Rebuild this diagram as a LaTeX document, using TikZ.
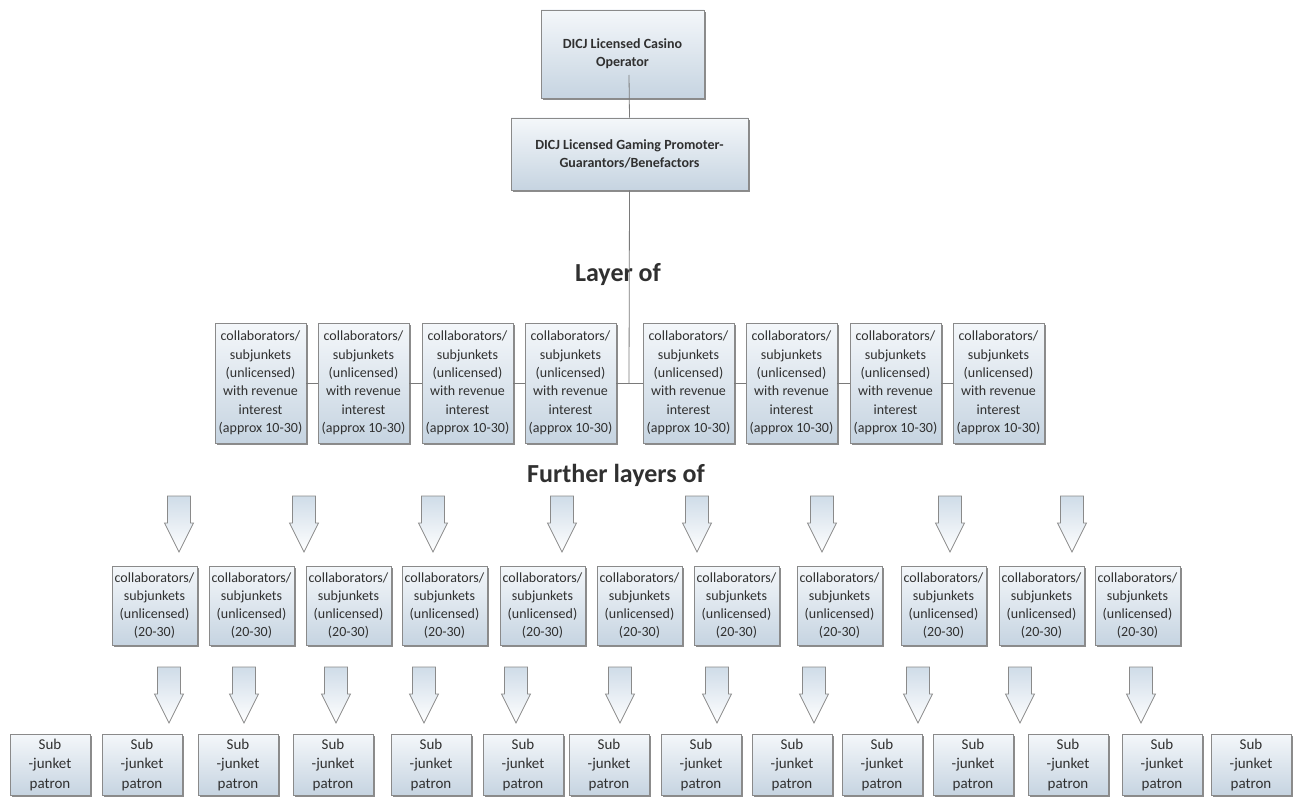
\documentclass[tikz,border=0pt]{standalone}
\usepackage{fontspec}
\setmainfont{Carlito}
\usepackage{xcolor}
\usetikzlibrary{shadows}

\definecolor{ink}{HTML}{303030}
\definecolor{edge}{HTML}{8A8A8A}
\definecolor{boxtop}{HTML}{F4F7FA}
\definecolor{boxbot}{HTML}{C6D4E1}
\definecolor{arrowtop}{HTML}{CFDCE8}
\definecolor{wire}{HTML}{7A7A7A}

\tikzset{
  smartbox/.style={draw=edge, line width=0.8pt, top color=boxtop, bottom color=boxbot,
    drop shadow={shadow xshift=1.5pt, shadow yshift=-2pt, fill=black, opacity=0.45},
    text=ink, align=center, inner sep=0pt},
  opbox/.style={smartbox, font=\bfseries\fontsize{14}{18}\selectfont},
  colbox/.style={smartbox, minimum width=91, minimum height=120, font=\fontsize{14}{18.4}\selectfont},
  subbox/.style={smartbox, minimum width=85, minimum height=79, font=\fontsize{14}{18}\selectfont},
  patronbox/.style={smartbox, minimum width=80, minimum height=61, font=\fontsize{15}{19.5}\selectfont},
  layertitle/.style={text=ink, anchor=base, inner sep=0pt, font=\bfseries\fontsize{26}{30}\selectfont},
  wireline/.style={draw=wire, line width=0.8pt},
  downarrow/.pic={
    \shade[draw=edge, line width=0.7pt, top color=arrowtop, bottom color=white]
      (-11.5,0) -- (11.5,0) -- (11.5,27) -- (14.5,27) -- (0,56)
      -- (-14.5,27) -- (-11.5,27) -- cycle;
  }
}

\begin{document}
\begin{tikzpicture}[x=1pt,y=-1pt]
\useasboundingbox (0,0) rectangle (1294,797);
% licensed top of the chain
\node[opbox, minimum width=163, minimum height=88] (casino) at (622.5,54) {DICJ Licensed Casino\\Operator};
\node[opbox, minimum width=237, minimum height=72] (promoter) at (629.5,154) {DICJ Licensed Gaming Promoter-\\Guarantors/Benefactors};
\node[layertitle] (layer) at (618,281) {Layer of};
% first layer, joined by one line
\node[colbox] (col1) at (260.5,383) {collaborators/\\subjunkets\\(unlicensed)\\with revenue\\interest\\(approx 10-30)};
\node[colbox] (col2) at (363.5,383) {collaborators/\\subjunkets\\(unlicensed)\\with revenue\\interest\\(approx 10-30)};
\node[colbox] (col3) at (467.5,383) {collaborators/\\subjunkets\\(unlicensed)\\with revenue\\interest\\(approx 10-30)};
\node[colbox] (col4) at (570.5,383) {collaborators/\\subjunkets\\(unlicensed)\\with revenue\\interest\\(approx 10-30)};
\node[colbox] (col5) at (688.5,383) {collaborators/\\subjunkets\\(unlicensed)\\with revenue\\interest\\(approx 10-30)};
\node[colbox] (col6) at (791.5,383) {collaborators/\\subjunkets\\(unlicensed)\\with revenue\\interest\\(approx 10-30)};
\node[colbox] (col7) at (895.5,383) {collaborators/\\subjunkets\\(unlicensed)\\with revenue\\interest\\(approx 10-30)};
\node[colbox] (col8) at (998.5,383) {collaborators/\\subjunkets\\(unlicensed)\\with revenue\\interest\\(approx 10-30)};
\node[layertitle] (further) at (616,482) {Further layers of};
% block arrows down to the second layer
\pic at (179,496) {downarrow};
\pic at (304,496) {downarrow};
\pic at (433,496) {downarrow};
\pic at (562,496) {downarrow};
\pic at (697,496) {downarrow};
\pic at (822,496) {downarrow};
\pic at (950,496) {downarrow};
\pic at (1072,496) {downarrow};
% second layer
\node[subbox] (sub1) at (154.5,605.5) {collaborators/\\subjunkets\\(unlicensed)\\(20-30)};
\node[subbox] (sub2) at (251.5,605.5) {collaborators/\\subjunkets\\(unlicensed)\\(20-30)};
\node[subbox] (sub3) at (348.5,605.5) {collaborators/\\subjunkets\\(unlicensed)\\(20-30)};
\node[subbox] (sub4) at (444.5,605.5) {collaborators/\\subjunkets\\(unlicensed)\\(20-30)};
\node[subbox] (sub5) at (542.5,605.5) {collaborators/\\subjunkets\\(unlicensed)\\(20-30)};
\node[subbox] (sub6) at (639.5,605.5) {collaborators/\\subjunkets\\(unlicensed)\\(20-30)};
\node[subbox] (sub7) at (736.5,605.5) {collaborators/\\subjunkets\\(unlicensed)\\(20-30)};
\node[subbox] (sub8) at (839.5,605.5) {collaborators/\\subjunkets\\(unlicensed)\\(20-30)};
\node[subbox] (sub9) at (943.5,605.5) {collaborators/\\subjunkets\\(unlicensed)\\(20-30)};
\node[subbox] (sub10) at (1041.5,605.5) {collaborators/\\subjunkets\\(unlicensed)\\(20-30)};
\node[subbox] (sub11) at (1137.5,605.5) {collaborators/\\subjunkets\\(unlicensed)\\(20-30)};
% block arrows down to the patrons
\pic at (169,667) {downarrow};
\pic at (244,667) {downarrow};
\pic at (336,667) {downarrow};
\pic at (424,667) {downarrow};
\pic at (516,667) {downarrow};
\pic at (620,667) {downarrow};
\pic at (717,667) {downarrow};
\pic at (814,667) {downarrow};
\pic at (918,667) {downarrow};
\pic at (1020,667) {downarrow};
\pic at (1141,667) {downarrow};
% patrons
\node[patronbox] (patron1) at (50,764.5) {Sub\\-junket\\patron};
\node[patronbox] (patron2) at (142,764.5) {Sub\\-junket\\patron};
\node[patronbox] (patron3) at (238,764.5) {Sub\\-junket\\patron};
\node[patronbox] (patron4) at (333,764.5) {Sub\\-junket\\patron};
\node[patronbox] (patron5) at (431,764.5) {Sub\\-junket\\patron};
\node[patronbox] (patron6) at (523,764.5) {Sub\\-junket\\patron};
\node[patronbox] (patron7) at (609,764.5) {Sub\\-junket\\patron};
\node[patronbox] (patron8) at (701,764.5) {Sub\\-junket\\patron};
\node[patronbox] (patron9) at (792,764.5) {Sub\\-junket\\patron};
\node[patronbox] (patron10) at (882,764.5) {Sub\\-junket\\patron};
\node[patronbox] (patron11) at (973,764.5) {Sub\\-junket\\patron};
\node[patronbox] (patron12) at (1068,764.5) {Sub\\-junket\\patron};
\node[patronbox] (patron13) at (1162,764.5) {Sub\\-junket\\patron};
\node[patronbox] (patron14) at (1251,764.5) {Sub\\-junket\\patron};
% connectors
\coordinate (opjoin) at (629,75);
\coordinate (layerjoin) at (629,383);
\draw[wireline] (opjoin) -- (promoter.north);
\draw[wireline] (promoter.south) -- (layerjoin);
\draw[wireline] (col1.east) -- (col2.west);
\draw[wireline] (col2.east) -- (col3.west);
\draw[wireline] (col3.east) -- (col4.west);
\draw[wireline] (col4.east) -- (col5.west);
\draw[wireline] (col5.east) -- (col6.west);
\draw[wireline] (col6.east) -- (col7.west);
\draw[wireline] (col7.east) -- (col8.west);
\end{tikzpicture}
\end{document}
